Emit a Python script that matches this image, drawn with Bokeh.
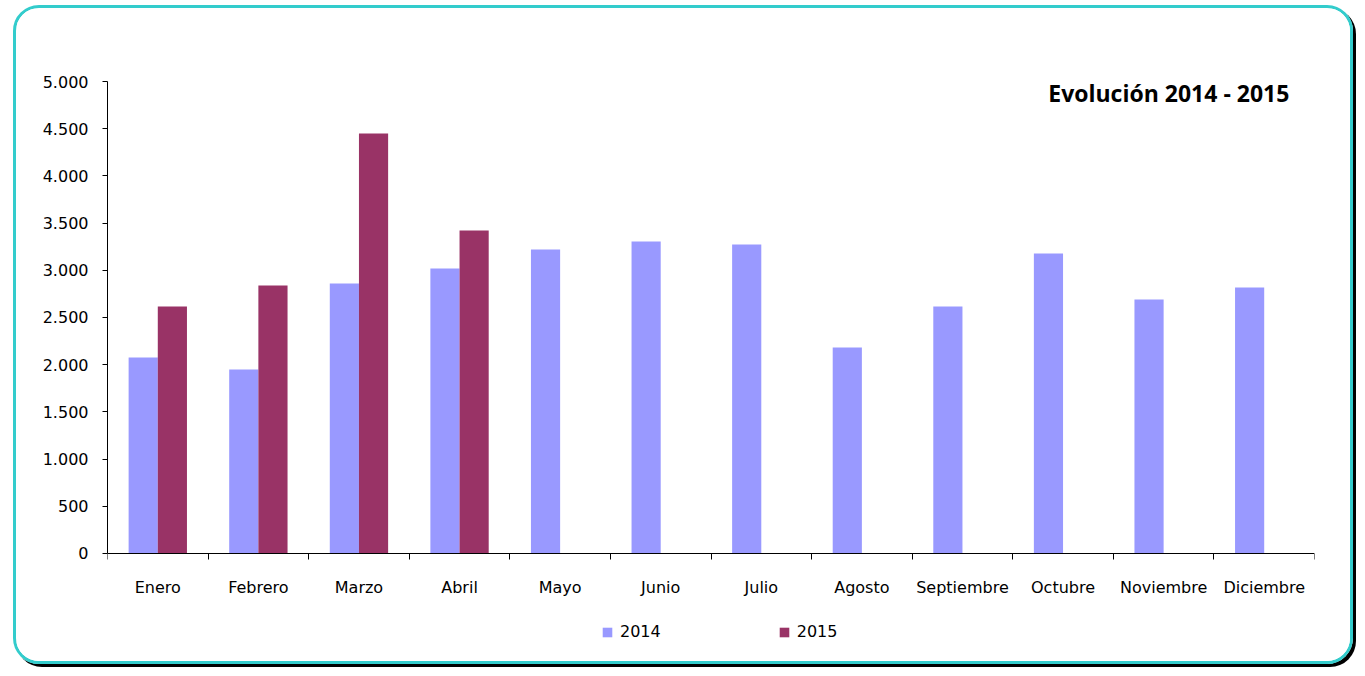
from bokeh.plotting import figure
from bokeh.models import FixedTicker, Label, Legend, LegendItem, ColumnDataSource, Range1d
from bokeh.transform import dodge
from bokeh.embed import file_html
from bokeh.resources import INLINE

months = ["Enero", "Febrero", "Marzo", "Abril", "Mayo", "Junio", "Julio",
          "Agosto", "Septiembre", "Octubre", "Noviembre", "Diciembre"]
v2014 = [2076, 1949, 2860, 3019, 3220, 3305, 3273, 2182, 2617, 3178, 2691, 2818]
v2015 = [2617, 2839, 4449, 3422]
series_names = ["2014", "2015"]
series_colors = ["#9999FF", "#993366"]
y_ticks = [0, 500, 1000, 1500, 2000, 2500, 3000, 3500, 4000, 4500, 5000]
y_tick_labels = ["0", "500", "1.000", "1.500", "2.000", "2.500", "3.000",
                 "3.500", "4.000", "4.500", "5.000"]
title_text = "Evolución 2014 - 2015"

FONT = "DejaVu Sans"
n = len(months)
centers = [i + 0.5 for i in range(n)]
bounds = [float(i) for i in range(n + 1)]

src14 = ColumnDataSource(dict(x=centers, y=v2014))
src15 = ColumnDataSource(dict(x=centers[:len(v2015)], y=v2015))

# frame extends below the value axis so the legend can sit under the month labels
p = figure(width=1340, height=659, output_backend="svg", toolbar_location=None,
           x_range=Range1d(0, n), y_range=Range1d(-1123, 5000),
           min_border_left=91, min_border_right=42, min_border_top=73,
           min_border_bottom=8, outline_line_color=None,
           background_fill_color="white", border_fill_color="white")
p.styles = {"border": "3px solid #33CCCC", "border-radius": "26px",
            "box-shadow": "3px 3px 0px 0px #000000", "overflow": "hidden",
            "margin-left": "13px", "margin-top": "5px"}

bw = 0.29
r14 = p.vbar(x=dodge("x", -bw / 2, range=p.x_range), top="y", width=bw, source=src14,
             fill_color=series_colors[0], line_color=None)
r15 = p.vbar(x=dodge("x", bw / 2, range=p.x_range), top="y", width=bw, source=src15,
             fill_color=series_colors[1], line_color=None)

p.xgrid.visible = False
p.ygrid.visible = False

xa = p.xaxis[0]
xa.fixed_location = 0
xa.ticker = FixedTicker(ticks=centers, minor_ticks=bounds)
xa.major_label_overrides = {c: m for c, m in zip(centers, months)}
xa.major_tick_out = 0
xa.major_tick_in = 0
xa.minor_tick_out = 6
xa.minor_tick_in = 0
xa.minor_tick_line_color = "black"
xa.axis_line_color = "black"
xa.major_label_standoff = 19
xa.major_label_text_font = FONT
xa.major_label_text_font_size = "16px"
xa.major_label_text_color = "black"

ya = p.yaxis[0]
ya.bounds = (0, 5000)
ya.ticker = FixedTicker(ticks=y_ticks)
ya.major_label_overrides = {t: l for t, l in zip(y_ticks, y_tick_labels)}
ya.major_tick_out = 5
ya.major_tick_in = 0
ya.minor_tick_line_color = None
ya.axis_line_color = "black"
ya.major_label_standoff = 14
ya.major_label_text_font = FONT
ya.major_label_text_font_size = "16px"
ya.major_label_text_color = "black"

p.add_layout(Label(x=11.75, y=4883, text=title_text, text_align="right",
                   text_baseline="middle", text_font="Open Sans",
                   text_font_style="bold", text_font_size="23px", text_color="black"))

legend = Legend(items=[LegendItem(label=series_names[0], renderers=[r14]),
                       LegendItem(label=series_names[1], renderers=[r15])],
                orientation="horizontal", location=(494, 18),
                glyph_width=12, glyph_height=12, label_standoff=7, spacing=117,
                label_text_font=FONT, label_text_font_size="16px",
                label_text_color="black",
                border_line_color=None, background_fill_alpha=0,
                padding=4, margin=0)
p.add_layout(legend)

open("out.html", "w").write(file_html(p, INLINE))
